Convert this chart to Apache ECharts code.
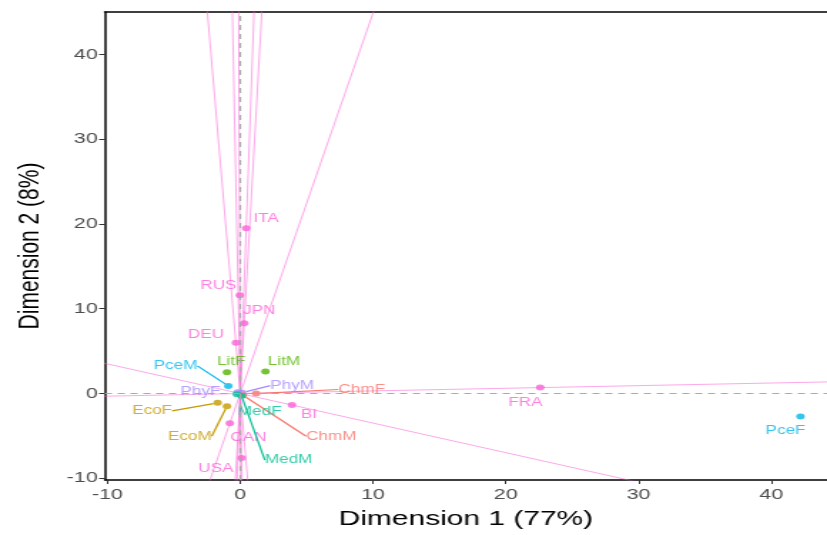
<!DOCTYPE html>
<html>
<head>
<meta charset="utf-8">
<script src="https://cdn.jsdelivr.net/npm/echarts@6/dist/echarts.min.js"></script>
<style>
  html, body { margin: 0; padding: 0; background: #fff; overflow: hidden; }
  /* the reference is a plot drawn narrow and then stretched sideways */
  #main { width: 580px; height: 535px; transform: scaleX(1.4259); transform-origin: 0 0; }
</style>
</head>
<body>
<div id="main"></div>
<script>
// rows (countries)
var rowNames = ['ITA', 'RUS', 'JPN', 'DEU', 'FRA', 'BI', 'CAN', 'USA']
var rowX = [0.45, -0.03, 0.3, -0.33, 22.6, 3.9, -0.78, 0.1]
var rowY = [19.5, 11.6, 8.3, 6.0, 0.7, -1.36, -3.5, -7.6]

// columns (subject by sex)
var colNames = ['PceF', 'PceM', 'LitF', 'LitM', 'PhyF', 'PhyM', 'ChmF', 'ChmM', 'EcoF', 'EcoM', 'MedF', 'MedM']
var colX = [42.2, -0.9, -1.0, 1.9, -0.2, 0.15, 1.2, 0.2, -1.7, -1.0, -0.25, 0.1]
var colY = [-2.7, 0.9, 2.5, 2.6, 0.15, 0.1, 0.0, -0.2, -1.1, -1.5, -0.1, -0.3]
var colGroup = ['Pce', 'Pce', 'Lit', 'Lit', 'Phy', 'Phy', 'Chm', 'Chm', 'Eco', 'Eco', 'Med', 'Med']

var tickVals = [-10, 0, 10, 20, 30, 40]

var groupColor = {
  Chm: '#F8766D', Eco: '#C49A00', Lit: '#53B400',
  Med: '#00C094', Pce: '#00B6EB', Phy: '#A58AFF'
}
var rowColor = '#FB61D7'
var font = 'Liberation Sans, Arial'

// label placement (pixels from the point), like ggrepel
var rowLabelShift = [[14, -10], [-15, -9], [10.5, -12], [-21, -8], [-10.5, 15], [12, 10], [13, 14], [-18, 11]]
var colLabelShift = [[-10.5, 14], [-37, -20], [3, -11], [13, -10], [-26, -1], [35, -7],
  [74, -4], [62, 41], [-46, 8], [-26, 30], [16, 17], [33, 64]]
var colLinked = [false, true, false, false, false, true, true, true, true, true, false, true]

var myChart = echarts.init(document.getElementById('main'))

var series = []

// biplot axes through the origin for each country
rowNames.forEach(function (n, i) {
  series.push({
    type: 'line',
    data: [[-1000 * rowX[i], -1000 * rowY[i]], [1000 * rowX[i], 1000 * rowY[i]]],
    symbol: 'none',
    silent: true,
    clip: true,
    z: 1,
    lineStyle: { color: rowColor, width: 1, opacity: 0.55 }
  })
})

// zero reference lines
series.push({
  type: 'line',
  data: [],
  markLine: {
    silent: true,
    symbol: 'none',
    label: { show: false },
    lineStyle: { color: '#aaaaaa', type: [5, 4], width: 1.2 },
    data: [{ xAxis: 0 }, { yAxis: 0 }]
  },
  z: 0
})

series.push({
  type: 'scatter',
  symbolSize: 6,
  z: 3,
  itemStyle: { color: rowColor },
  data: rowNames.map(function (n, i) { return { name: n, value: [rowX[i], rowY[i]] } }),
  label: {
    show: true,
    position: 'inside',
    formatter: '{b}',
    color: rowColor,
    fontSize: 12,
    fontFamily: font
  },
  labelLayout: function (p) {
    var s = rowLabelShift[p.dataIndex]
    return { dx: s[0], dy: s[1] }
  }
})

series.push({
  type: 'scatter',
  symbolSize: 6,
  z: 4,
  data: colNames.map(function (n, i) {
    var c = groupColor[colGroup[i]]
    return {
      name: n,
      value: [colX[i], colY[i]],
      itemStyle: { color: c },
      label: { color: c },
      labelLine: { show: colLinked[i], lineStyle: { color: c, width: 1.2 } }
    }
  }),
  label: {
    show: true,
    position: 'inside',
    formatter: '{b}',
    fontSize: 12,
    fontFamily: font
  },
  labelLine: { show: false, smooth: false, length2: 0 },
  labelLayout: function (p) {
    var s = colLabelShift[p.dataIndex]
    return { dx: s[0], dy: s[1] }
  }
})

myChart.setOption({
  animation: false,
  grid: { left: 73.5, right: 0, top: 12, bottom: 54 },
  xAxis: [
    {
      type: 'value',
      min: -10.2,
      max: 44.2,
      name: 'Dimension 1 (77%)',
      nameLocation: 'middle',
      nameGap: 29,
      nameTextStyle: { color: '#000', fontSize: 21, fontFamily: font },
      axisLine: { show: true, onZero: false, lineStyle: { color: '#000', width: 1.5 } },
      axisTick: { show: true, length: 4, customValues: tickVals, lineStyle: { color: '#333' } },
      axisLabel: { customValues: tickVals, color: '#4D4D4D', fontSize: 15, margin: 7, fontFamily: font },
      splitLine: { show: false }
    },
    {
      type: 'value',
      position: 'top',
      min: -10.2,
      max: 44.2,
      axisLine: { show: true, onZero: false, lineStyle: { color: '#000', width: 1.5 } },
      axisTick: { show: false },
      axisLabel: { show: false },
      splitLine: { show: false }
    }
  ],
  yAxis: {
    type: 'value',
    min: -10.2,
    max: 45,
    name: 'Dimension 2 (8%)',
    nameLocation: 'middle',
    nameGap: 42,
    nameTextStyle: { color: '#000', fontSize: 21, fontFamily: font },
    axisLine: { show: true, onZero: false, lineStyle: { color: '#000', width: 1.5 } },
    axisTick: { show: true, length: 4, customValues: tickVals, lineStyle: { color: '#333' } },
    axisLabel: { customValues: tickVals, color: '#4D4D4D', fontSize: 15, margin: 5, fontFamily: font },
    splitLine: { show: false }
  },
  series: series
})
</script>
</body>
</html>
